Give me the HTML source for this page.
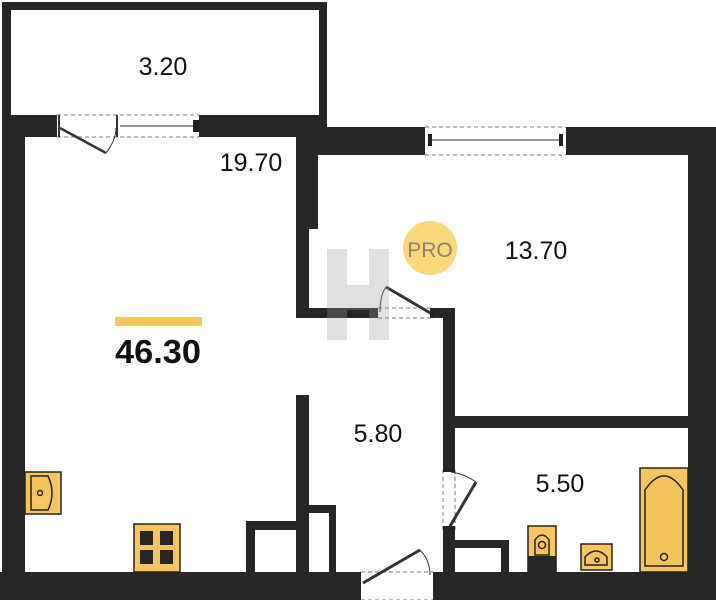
<!DOCTYPE html>
<html><head><meta charset="utf-8"><style>
html,body{margin:0;padding:0;background:#fff;}
svg{display:block}
text{font-family:"Liberation Sans","DejaVu Sans",sans-serif;fill:#111;}
</style></head><body>
<svg width="716" height="600" viewBox="0 0 716 600" xmlns="http://www.w3.org/2000/svg">
<g fill="#262626">
<rect x="2" y="2" width="325" height="8"/>
<rect x="2" y="2" width="9" height="120"/>
<rect x="319" y="2" width="8" height="135"/>
<rect x="2" y="115" width="55" height="22"/>
<rect x="199" y="115" width="128" height="22"/>
<rect x="2" y="115" width="23" height="485"/>
<rect x="296" y="127" width="129" height="28"/>
<rect x="566" y="127" width="150" height="28"/>
<rect x="688" y="127" width="28" height="473"/>
<rect x="296" y="127" width="22" height="102"/>
<rect x="296" y="127" width="13" height="191"/>
<rect x="296" y="308" width="82" height="10"/>
<rect x="432" y="308" width="23" height="10"/>
<rect x="443" y="308" width="12" height="162"/>
<rect x="443" y="530" width="12" height="70"/>
<rect x="455" y="416" width="233" height="12"/>
<rect x="0" y="572" width="361" height="28"/>
<rect x="433" y="572" width="283" height="28"/>
<rect x="296" y="395" width="13" height="177"/>
<rect x="309" y="505" width="27" height="8"/>
<rect x="329" y="505" width="7" height="67"/>
<rect x="246" y="521" width="50" height="9"/>
<rect x="246" y="521" width="9" height="51"/>
<rect x="455" y="540" width="54" height="8"/>
<rect x="501" y="540" width="8" height="32"/>
</g>
<g stroke="#777" stroke-width="1" stroke-dasharray="4,3" fill="none">
<line x1="57" y1="115" x2="199" y2="115"/><line x1="57" y1="137" x2="199" y2="137"/>
<line x1="425" y1="127" x2="566" y2="127"/><line x1="425" y1="155" x2="566" y2="155"/>
<line x1="378" y1="308" x2="432" y2="308"/><line x1="378" y1="318" x2="432" y2="318"/>
<line x1="443" y1="470" x2="443" y2="530"/><line x1="455" y1="470" x2="455" y2="530"/>
<line x1="361" y1="572" x2="433" y2="572"/><line x1="361" y1="600" x2="433" y2="600"/>
</g>
<g stroke="#333" fill="none">
<line x1="120" y1="126" x2="195" y2="126" stroke-width="1"/>
<line x1="430" y1="140" x2="562" y2="140" stroke-width="1"/>
<line x1="60" y1="128" x2="106" y2="153" stroke-width="2.5"/>
<path d="M106,153 Q116,140 116,128" stroke-width="1"/>
<line x1="59" y1="115" x2="59" y2="137" stroke-width="2"/>
<line x1="117" y1="115" x2="117" y2="137" stroke-width="2"/>
<line x1="386" y1="287" x2="432" y2="314" stroke-width="3"/>
<path d="M380,312 Q380,295 386,287" stroke-width="1"/>
<line x1="449" y1="528" x2="476" y2="482" stroke-width="3"/>
<path d="M476,482 Q465,474 451,472" stroke-width="1"/>
<line x1="363" y1="583" x2="420" y2="550" stroke-width="3"/>
<path d="M420,550 Q430,560 430,575" stroke-width="1"/>
</g>
<g fill="#222">
<rect x="428" y="134" width="4" height="12"/><rect x="559" y="134" width="4" height="12"/>
<rect x="193" y="120" width="6" height="12"/><rect x="430" y="308" width="4" height="10"/>
<rect x="443" y="468" width="12" height="4"/><rect x="443" y="526" width="12" height="4"/>
</g>
<g fill="#a09a94" opacity="0.3">
<rect x="327" y="249" width="20" height="91"/>
<rect x="369" y="249" width="20" height="91"/>
<rect x="347" y="285" width="22" height="25"/>
</g>
<circle cx="430" cy="248" r="27" fill="#f8d87a"/>
<text x="430" y="257" font-size="21" text-anchor="middle" style="fill:#8c8272">PRO</text>
<g stroke="#222" stroke-width="1.5" fill="#f6c55e">
<rect x="25" y="472" width="36" height="42"/>
<path d="M31,476 H48 Q56,493 48,510 H31 Z" fill="none"/>
<circle cx="40" cy="493" r="2.5" fill="none"/>
<rect x="134" y="524" width="46" height="48"/>
<rect x="528" y="526" width="28" height="46"/>
<path d="M535,555 V540 Q542,530 549,540 V555 Z" fill="none"/>
<circle cx="542" cy="545" r="3.5" fill="none"/>
<rect x="581" y="544" width="31" height="26"/>
<path d="M585,565 V557 Q596,545 607,557 V565 Z" fill="none"/>
<circle cx="597" cy="560" r="2" fill="none"/>
<rect x="640" y="468" width="48" height="104"/>
<path d="M645,566 V490 Q664,462 683,490 V566 Z" fill="none"/>
<circle cx="664" cy="557" r="3.5" fill="none"/>
</g>
<g fill="#262626">
<rect x="140" y="531" width="13" height="14"/><rect x="160" y="531" width="13" height="14"/>
<rect x="140" y="550" width="13" height="14"/><rect x="160" y="550" width="13" height="14"/>
<rect x="528" y="556" width="28" height="16"/>
</g>
<rect x="115" y="317" width="87" height="9" fill="#f6c55e"/>
<text x="158" y="363" font-size="33" font-weight="bold" text-anchor="middle" textLength="86" lengthAdjust="spacingAndGlyphs">46.30</text>
<text x="163" y="75" font-size="25" text-anchor="middle">3.20</text>
<text x="251" y="171" font-size="25" text-anchor="middle">19.70</text>
<text x="536" y="259" font-size="25" text-anchor="middle">13.70</text>
<text x="378" y="442" font-size="25" text-anchor="middle">5.80</text>
<text x="560" y="492" font-size="25" text-anchor="middle">5.50</text>
</svg>
</body></html>
